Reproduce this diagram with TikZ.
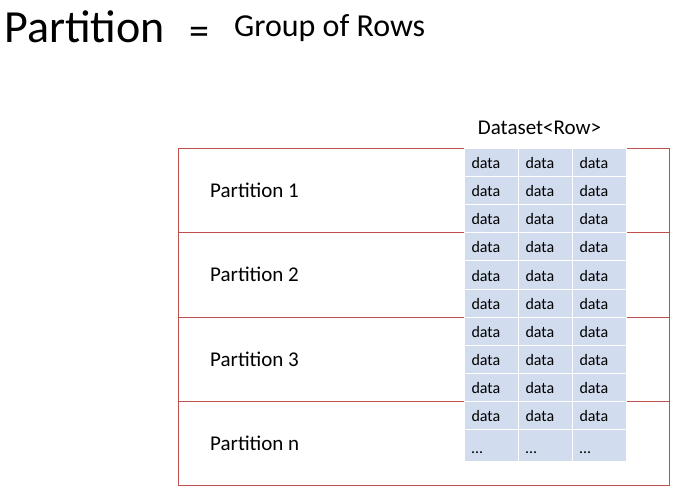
\documentclass[tikz,border=0pt]{standalone}
\usepackage{fontspec}
\setmainfont{Carlito}
\usetikzlibrary{positioning}
\definecolor{partred}{RGB}{192,80,77}
\definecolor{rowblue}{RGB}{209,220,238}

\begin{document}
\begin{tikzpicture}[x=1pt,y=-1pt]
  \tikzset{
    part/.style={draw=partred,line width=1pt,outer sep=0pt,minimum width=491pt,minimum height=84pt,inner sep=0pt},
    plabel/.style={anchor=base west,inner sep=0pt,font=\fontsize{21}{25}\selectfont},
    cell/.style={fill=rowblue,draw=white,line width=1pt,minimum width=54pt,minimum height=28pt,
      inner ysep=0pt,inner xsep=7pt,text width=40pt,text height=12pt,text depth=0pt,align=left,
      font=\fontsize{16}{18}\selectfont},
  }
  \useasboundingbox (0,0) rectangle (677,494);

  \node[anchor=base west,inner sep=0pt,font=\fontsize{46}{52}\selectfont] (title) at (4,43) {Partition};
  \node[anchor=base,inner sep=0pt,font=\fontsize{40}{44}\selectfont] (eq) at (199,45) {=};
  \node[anchor=base west,inner sep=0pt,font=\fontsize{32}{36}\selectfont] (rows) at (234,37) {Group of Rows};

  \node[part] (p1) at (423.5,191) {};
  \node[part] (p2) at (423.5,275) {};
  \node[part] (p3) at (423.5,359) {};
  \node[part] (pn) at (423.5,443) {};
  \node[plabel] (l1) at (210,198) {Partition 1};
  \node[plabel] (l2) at (210,282) {Partition 2};
  \node[plabel] (l3) at (210,366) {Partition 3};
  \node[plabel] (ln) at (210,450) {Partition n};

  \node[anchor=base,inner sep=0pt,font=\fontsize{21}{25}\selectfont] (ds) at (539.5,135) {Dataset<Row>};

  \foreach \r in {0,...,9}
    \foreach \c in {0,1,2}
      \node[cell] (d\r\c) at (491.5+54*\c,163+28*\r) {data};
  \foreach \c in {0,1,2}
    \node[cell,minimum height=32pt,text height=15pt] (e\c) at (491.5+54*\c,445.5) {\ldots};
\end{tikzpicture}
\end{document}
